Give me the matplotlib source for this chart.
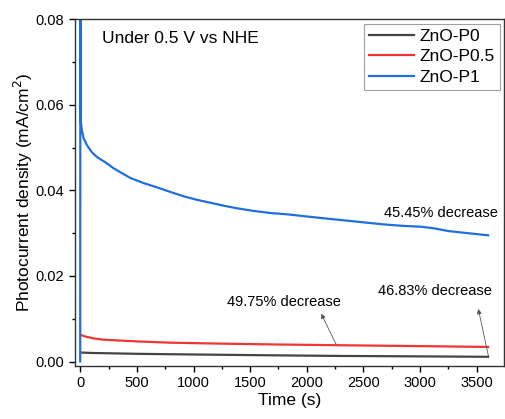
import matplotlib
matplotlib.use("Agg")
import matplotlib.pyplot as plt
from matplotlib.ticker import MultipleLocator

plt.rcParams['font.family'] = ['Liberation Sans', 'DejaVu Sans']

# %% data
t_p1 = [0, 2, 6, 15, 30, 59, 100, 148, 220, 293, 370, 443, 560, 679, 800,
        915, 1030, 1151, 1270, 1388, 1530, 1683, 1830, 2000, 2214, 2440,
        2657, 2850, 3012, 3130, 3248, 3420, 3600]
j_p1 = [0.0, 0.12, 0.0560, 0.0540, 0.0522, 0.0506, 0.0490, 0.0478, 0.0466,
        0.0452, 0.0440, 0.0429, 0.0417, 0.0407, 0.0396, 0.0386, 0.0378,
        0.0371, 0.0364, 0.0358, 0.0352, 0.0347, 0.0344, 0.0339, 0.0333,
        0.0327, 0.0321, 0.0317, 0.0315, 0.0311, 0.0305, 0.0300, 0.0295]

t_p05 = [5, 50, 120, 206, 350, 500, 797, 1200, 1683, 2300, 3000, 3600]
j_p05 = [0.0062, 0.0058, 0.0054, 0.0051, 0.0049, 0.0047, 0.0044, 0.0042,
         0.0040, 0.0038, 0.0036, 0.0034]

t_p0 = [5, 100, 500, 797, 1500, 2300, 3000, 3600]
j_p0 = [0.0021, 0.0020, 0.0018, 0.0017, 0.0015, 0.0013, 0.0012, 0.0011]

labels = ['ZnO-P0', 'ZnO-P0.5', 'ZnO-P1']
colors = ['#454545', '#f03535', '#1f6fe0']

# %% figure
fig = plt.figure(figsize=(5.06, 4.19), dpi=100)
ax = fig.add_axes([0.148, 0.127, 0.848, 0.827])

ax.plot(t_p0, j_p0, color=colors[0], lw=1.6, label=labels[0])
ax.plot(t_p05, j_p05, color=colors[1], lw=1.6, label=labels[1])
ax.plot(t_p1, j_p1, color=colors[2], lw=1.6, label=labels[2])

ax.set_xlim(-47, 3740)
ax.set_ylim(-0.001, 0.08)
ax.xaxis.set_major_locator(MultipleLocator(500))
ax.xaxis.set_minor_locator(MultipleLocator(250))
ax.yaxis.set_major_locator(MultipleLocator(0.02))
ax.yaxis.set_minor_locator(MultipleLocator(0.01))
ax.yaxis.set_major_formatter(matplotlib.ticker.FormatStrFormatter('%.2f'))
ax.tick_params(which='both', direction='out', labelsize=10.5)
ax.tick_params(which='major', length=4, width=1)
ax.tick_params(which='minor', length=2.5, width=1)
for s in ax.spines.values():
    s.set_linewidth(1.0)
    s.set_color('#333333')

ax.set_xlabel('Time (s)', fontsize=12.5, labelpad=2)
ax.set_ylabel('Photocurrent density (mA/cm$^2$)', fontsize=12.5, labelpad=0.5)

ax.text(192, 0.0756, 'Under 0.5 V vs NHE', fontsize=12.5, va='center')
ax.text(3183, 0.0347, '45.45% decrease', fontsize=10.5, ha='center',
        va='center')
ax.annotate('49.75% decrease', xy=(2126, 0.0112), xytext=(1800, 0.0139),
            fontsize=10.5, ha='center', va='center')
ax.annotate('', xy=(2126, 0.0112), xytext=(2259, 0.0040),
            arrowprops=dict(arrowstyle='-|>', color='#555555', lw=0.6,
                            mutation_scale=7, shrinkA=0, shrinkB=0))
ax.text(3130, 0.0165, '46.83% decrease', fontsize=10.5, ha='center',
        va='center')
ax.annotate('', xy=(3513, 0.0123), xytext=(3602, 0.0014),
            arrowprops=dict(arrowstyle='-|>', color='#555555', lw=0.6,
                            mutation_scale=7, shrinkA=0, shrinkB=0))

leg = ax.legend(loc='upper right', fontsize=12.5, frameon=True, fancybox=False,
                borderaxespad=0.25, handlelength=2.6, handletextpad=0.3,
                labelspacing=0.3, borderpad=0.3)
leg.get_frame().set_edgecolor('#888888')
leg.get_frame().set_linewidth(0.8)

fig.savefig('out.png', dpi=100)
